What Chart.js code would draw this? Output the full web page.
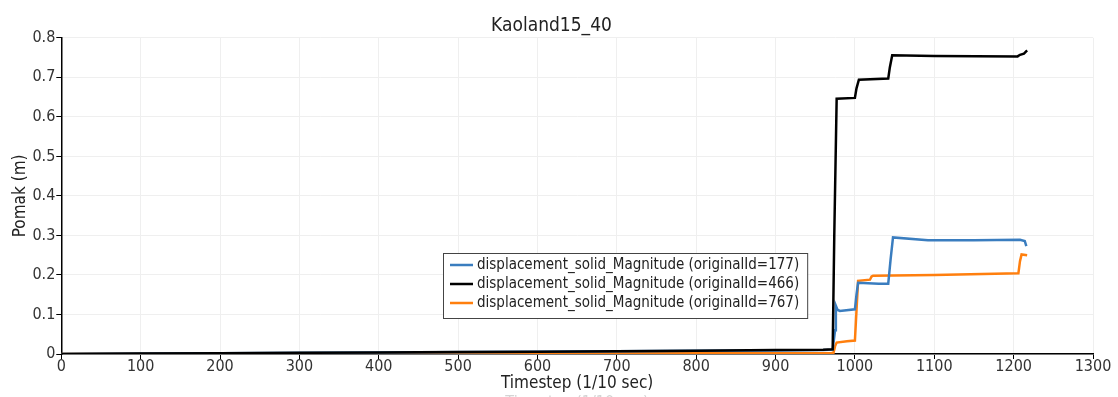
<!DOCTYPE html>
<html>
<head>
<meta charset="utf-8">
<script src="https://cdn.jsdelivr.net/npm/chart.js@4.4.1/dist/chart.umd.min.js"></script>
<style>
  html, body { margin: 0; padding: 0; background: #fff; }
  #wrap { width: 1118px; height: 397px; position: relative; }
</style>
</head>
<body>
<div id="wrap"><canvas id="chart"></canvas></div>
<script>
const FONT = '"Liberation Sans Narrow", "DejaVu Sans Condensed", Roboto, sans-serif';

const title = 'Kaoland15_40';
const xTitle = 'Timestep (1/10 sec)';
const yTitle = 'Pomak (m)';
const xTicks = [0, 100, 200, 300, 400, 500, 600, 700, 800, 900, 1000, 1100, 1200, 1300];
const yTicks = [0, 0.1, 0.2, 0.3, 0.4, 0.5, 0.6, 0.7, 0.8];

const labels = [
  'displacement_solid_Magnitude (originalId=177)',
  'displacement_solid_Magnitude (originalId=466)',
  'displacement_solid_Magnitude (originalId=767)',
];
const colors = ['#3a7dbf', '#000000', '#ff7f0e'];

// originalId=177 (blue)
const t177 = [0, 200, 400, 600, 800, 900, 960, 972, 975, 976, 978, 981, 1000, 1002, 1004, 1030, 1042, 1045, 1048, 1092, 1150, 1208, 1214, 1216];
const v177 = [0, 0.002, 0.004, 0.006, 0.008, 0.009, 0.010, 0.011, 0.06, 0.122, 0.112, 0.109, 0.113, 0.150, 0.180, 0.178, 0.178, 0.240, 0.295, 0.288, 0.288, 0.289, 0.286, 0.273];

// originalId=466 (black)
const t466 = [0, 100, 200, 300, 400, 500, 600, 700, 800, 900, 960, 972, 974, 977, 1000, 1002, 1005, 1042, 1044, 1047, 1100, 1205, 1208, 1213, 1217];
const v466 = [0, 0.001, 0.002, 0.003, 0.004, 0.005, 0.006, 0.007, 0.008, 0.010, 0.011, 0.012, 0.30, 0.646, 0.648, 0.672, 0.694, 0.697, 0.725, 0.756, 0.754, 0.753, 0.757, 0.760, 0.768];

// originalId=767 (orange)
const t767 = [0, 200, 400, 600, 800, 900, 970, 973, 975, 977, 990, 1000, 1002, 1004, 1019, 1021, 1023, 1100, 1206, 1208, 1210, 1217];
const v767 = [0, 0.001, 0.001, 0.002, 0.002, 0.002, 0.002, 0.003, 0.02, 0.029, 0.032, 0.034, 0.110, 0.185, 0.188, 0.196, 0.198, 0.200, 0.204, 0.235, 0.252, 0.250];

const series = [[t177, v177], [t466, v466], [t767, v767]];

const legendBox = {
  id: 'legendBox',
  afterDatasetsDraw(chart) {
    const ctx = chart.ctx;
    const x0 = 443, y0 = 253, rowH = 19;
    ctx.save();
    ctx.font = '15px ' + FONT;
    let w = 0;
    labels.forEach((l) => { w = Math.max(w, ctx.measureText(l).width); });
    const boxW = 34 + w + 8;
    const boxH = rowH * labels.length + 8;
    ctx.fillStyle = '#fff';
    ctx.fillRect(x0, y0, boxW, boxH);
    ctx.strokeStyle = '#444';
    ctx.lineWidth = 1;
    ctx.strokeRect(x0 + 0.5, y0 + 0.5, boxW, boxH);
    labels.forEach((l, i) => {
      const cy = y0 + 12 + i * rowH;
      ctx.strokeStyle = colors[i];
      ctx.lineWidth = 2.5;
      ctx.beginPath();
      ctx.moveTo(x0 + 7, cy);
      ctx.lineTo(x0 + 30, cy);
      ctx.stroke();
      ctx.fillStyle = '#222';
      ctx.textBaseline = 'middle';
      ctx.fillText(l, x0 + 34, cy);
    });
    // faint clipped caption under the axis title
    ctx.fillStyle = '#d4d4d4';
    ctx.textAlign = 'center';
    ctx.textBaseline = 'alphabetic';
    ctx.font = '16px ' + FONT;
    ctx.fillText(xTitle, 577, 407);
    ctx.restore();
  },
};

new Chart(document.getElementById('chart'), {
  type: 'line',
  data: {
    datasets: series.map(([t, v], i) => ({
      label: labels[i],
      data: t.map((x, j) => ({ x: x, y: v[j] })),
      borderColor: colors[i],
      backgroundColor: colors[i],
      borderWidth: 2.5,
      pointRadius: 0,
      tension: 0,
      order: i === 1 ? 0 : 1,
    })),
  },
  options: {
    responsive: true,
    maintainAspectRatio: false,
    animation: false,
    layout: { padding: { left: 10, right: 25, top: 0, bottom: 5 } },
    plugins: {
      legend: { display: false },
      tooltip: { enabled: false },
      title: {
        display: true,
        text: title,
        color: '#222',
        font: { family: FONT, size: 19, weight: 'normal', lineHeight: 1.2 },
        padding: { top: 15, bottom: 0 },
      },
    },
    scales: {
      x: {
        type: 'linear',
        min: 0,
        max: 1300,
        afterBuildTicks: (s) => { s.ticks = xTicks.map((v) => ({ value: v })); },
        ticks: { color: '#333', font: { family: FONT, size: 16, lineHeight: 1 }, padding: 0, maxRotation: 0, callback: (v) => String(v) },
        grid: { color: '#efefef', tickColor: '#000', tickLength: 5 },
        border: { color: '#000', width: 1.5 },
        title: { display: true, text: xTitle, color: '#222', font: { family: FONT, size: 17, lineHeight: 1 }, padding: { top: 0, bottom: 0 } },
      },
      y: {
        min: 0,
        max: 0.8,
        afterBuildTicks: (s) => { s.ticks = yTicks.map((v) => ({ value: v })); },
        ticks: { color: '#333', font: { family: FONT, size: 16 }, padding: 1, callback: (v) => String(Math.round(v * 10) / 10) },
        grid: { color: '#efefef', tickColor: '#000', tickLength: 5 },
        border: { color: '#000', width: 1.5 },
        title: { display: true, text: yTitle, color: '#222', font: { family: FONT, size: 17 }, padding: { top: 0, bottom: 1 } },
      },
    },
  },
  plugins: [legendBox],
});
</script>
</body>
</html>
